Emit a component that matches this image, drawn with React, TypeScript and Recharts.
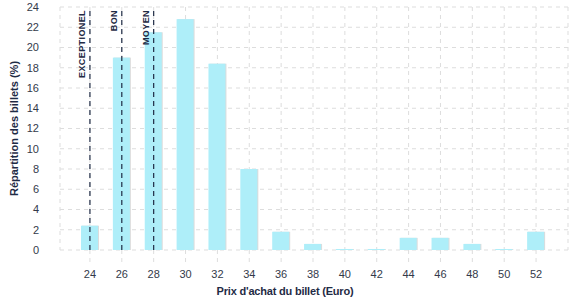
import React from 'react';
import { BarChart, Bar, XAxis, YAxis, CartesianGrid, ReferenceLine, Label } from 'recharts';

const prices = ['24', '26', '28', '30', '32', '34', '36', '38', '40', '42', '44', '46', '48', '50', '52'];
const shares = [2.4, 19.0, 21.5, 22.8, 18.4, 8.0, 1.8, 0.6, 0.1, 0.1, 1.2, 1.2, 0.6, 0.1, 1.8];
const yTicks = [0, 2, 4, 6, 8, 10, 12, 14, 16, 18, 20, 22, 24];
const refPrices = ['24', '26', '28'];
const refLabels = ['EXCEPTIONEL', 'BON', 'MOYEN'];

const data = prices.map((p, i) => ({ price: p, share: shares[i] }));

const NAVY = '#1f2b45';
const FONT = '"Liberation Sans", Arial, sans-serif';

const BarShape = (props: any) => {
  const { x, y, width, height } = props;
  if (!height || height <= 0) return null;
  return (
    <g>
      <rect x={x + 1} y={y} width={width} height={height} fill="#dcdcdc" />
      <rect x={x} y={y} width={width} height={height} fill="#aeeef9" />
    </g>
  );
};

const RefLabel = (text: string) => (props: any) => {
  const vb = props.viewBox || {};
  const x = vb.x - 5;
  const y = vb.y + 3;
  return (
    <text
      x={x}
      y={y}
      transform={`rotate(-90 ${x} ${y})`}
      textAnchor="end"
      fontSize={9}
      fontWeight="bold"
      fill={NAVY}
      fontFamily={FONT}
      letterSpacing={0.4}
    >
      {text}
    </text>
  );
};

const XLabel = (props: any) => {
  const vb = props.viewBox || {};
  const cx = vb.x + vb.width / 2 - 29;
  const y = vb.y + vb.height - 5;
  return (
    <text
      x={cx}
      y={y}
      textAnchor="middle"
      fontSize={11}
      fontWeight="bold"
      fill={NAVY}
      fontFamily={FONT}
      letterSpacing={-0.2}
    >
      Prix d'achat du billet (Euro)
    </text>
  );
};

export default function App() {
  return (
    <div>
      <style>{'body{margin:0}'}</style>
      <BarChart
        width={577}
        height={300}
        data={data}
        margin={{ top: 7, right: 9, bottom: 0, left: 0 }}
        barCategoryGap={0}
      >
        <CartesianGrid stroke="#dddddd" strokeDasharray="4 4" />
        <XAxis
          dataKey="price"
          padding={{ left: 14, right: 16 }}
          axisLine={false}
          tickLine={{ stroke: '#dddddd', strokeDasharray: '4 4' }}
          tickSize={12}
          tickMargin={8}
          height={50}
          interval={0}
          tick={{ fontSize: 11, fill: '#333a4a', fontFamily: FONT }}
        >
          <Label content={XLabel} />
        </XAxis>
        <YAxis
          domain={[0, 24]}
          ticks={yTicks}
          interval={0}
          axisLine={false}
          tickLine={false}
          tickSize={6}
          tickMargin={15}
          width={60}
          tick={{ fontSize: 11, fill: '#333a4a', fontFamily: FONT }}
        >
          <Label
            value="Répartition des billets (%)"
            angle={-90}
            position="insideLeft"
            offset={14}
            style={{ fontSize: 11, fontWeight: 'bold', fill: NAVY, fontFamily: FONT, textAnchor: 'middle' }}
          />
        </YAxis>
        <Bar dataKey="share" barSize={17} shape={BarShape} isAnimationActive={false} />
        {refPrices.map((p, i) => (
          <ReferenceLine
            key={p}
            x={p}
            stroke={NAVY}
            strokeWidth={1.2}
            strokeDasharray="5 4"
            label={RefLabel(refLabels[i])}
          />
        ))}
      </BarChart>
    </div>
  );
}
